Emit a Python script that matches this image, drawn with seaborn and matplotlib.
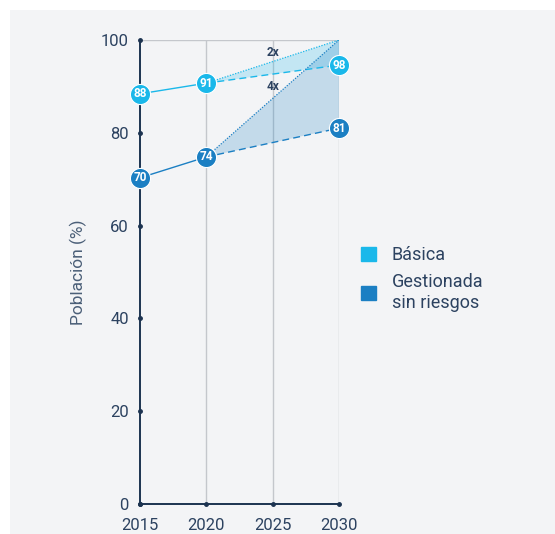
import pandas as pd
import matplotlib.pyplot as plt
import seaborn as sns
from matplotlib.patches import Patch, Rectangle

# -----------------------------
# Data
# -----------------------------
series = ['Básica', 'Gestionada\nsin riesgos']
colors = ['#1ab8ea', '#1b7fc3']
years_obs = [2015, 2020]
basica_obs = [88.4, 90.7]
gestionada_obs = [70.3, 74.8]
years_proj = [2020, 2030]
basica_trend = [90.7, 94.6]
gestionada_trend = [74.8, 81.0]
target = [100, 100]
basica_labels = ['88', '91', '98']
gestionada_labels = ['70', '74', '81']
multipliers = ['2x', '4x']
x_ticks = [2015, 2020, 2025, 2030]
y_ticks = [0, 20, 40, 60, 80, 100]

obs = pd.DataFrame({
    'year': years_obs * 2,
    'value': basica_obs + gestionada_obs,
    'serie': [series[0]] * 2 + [series[1]] * 2,
})

# -----------------------------
# Style
# -----------------------------
sns.set_style("white")
plt.rcParams['font.family'] = ['Roboto', 'DejaVu Sans']
navy = '#1c3350'
text_col = '#2c4260'

fig = plt.figure(figsize=(5.55, 5.34), dpi=100)
fig.patch.set_facecolor('white')
fig.patches.append(Rectangle((10 / 555, 0), 1, 1 - 10 / 534, transform=fig.transFigure,
                             facecolor='#f3f4f6', edgecolor='none', zorder=-10))

ax = fig.add_axes([140 / 555, 30 / 534, 199 / 555, 464 / 534])
ax.set_facecolor('none')

# grid
for x in x_ticks[1:]:
    ax.axvline(x, color='#c4c7cc', lw=1, zorder=0)
ax.axhline(100, color='#c4c7cc', lw=1, zorder=0)

# observed lines
sns.lineplot(data=obs, x='year', y='value', hue='serie', palette=colors,
             lw=1, legend=False, ax=ax, zorder=2)

# projections
trends = [basica_trend, gestionada_trend]
for trend, col in zip(trends, colors):
    start = trend[0]
    ax.fill([years_proj[0], years_proj[1], years_proj[1]],
            [start, target[1], trend[1]], color=col, alpha=0.22, lw=0, zorder=1)
    ax.plot(years_proj, trend, color=col, lw=1, ls=(0, (5, 3)), zorder=2)
    ax.plot(years_proj, [start, target[1]], color=col, lw=0.9, ls=(0, (1, 1.2)), zorder=2)

# markers with values
points = [
    (years_obs + [years_proj[1]], basica_obs + [basica_trend[1]], basica_labels, colors[0]),
    (years_obs + [years_proj[1]], gestionada_obs + [gestionada_trend[1]], gestionada_labels, colors[1]),
]
for xs, ys, labels, col in points:
    for x, y, lab in zip(xs, ys, labels):
        ax.plot(x, y, 'o', ms=14.5, color=col, mec='white', mew=0.8, zorder=4, clip_on=False)
        ax.text(x, y, lab, color='white', fontsize=8.5, fontweight='bold',
                ha='center', va='center', zorder=5)

ax.text(2025, 97.4, multipliers[0], fontsize=8.5, fontweight='bold', color=text_col,
        ha='center', va='center')
ax.text(2025, 89.9, multipliers[1], fontsize=8.5, fontweight='bold', color=text_col,
        ha='center', va='center')

# axes
ax.set_xlim(2015, 2030)
ax.set_ylim(0, 100)
ax.set_xticks(x_ticks)
ax.set_yticks(y_ticks)
ax.tick_params(length=0, labelsize=12, labelcolor=text_col)
ax.tick_params(axis='x', pad=10)
ax.tick_params(axis='y', pad=8)
for s in ['top', 'right']:
    ax.spines[s].set_visible(False)
for s in ['left', 'bottom']:
    ax.spines[s].set_color(navy)
    ax.spines[s].set_linewidth(1.4)
ax.plot([2015] * len(y_ticks), y_ticks, 'o', ms=2.5, color=navy, clip_on=False, zorder=3)
ax.plot(x_ticks, [0] * len(x_ticks), 'o', ms=2.5, color=navy, clip_on=False, zorder=3)
ax.set_xlabel('')
ax.set_ylabel('Población (%)', fontsize=12.5, color='#4b5f78', labelpad=10)

handles = [Patch(color=c) for c in colors]
fig.legend(handles, series, loc='upper left', bbox_to_anchor=(345 / 555, 1 - 230 / 534),
           frameon=False, fontsize=13, handlelength=0.8, handleheight=0.8,
           labelcolor=text_col, handletextpad=0.9, labelspacing=0.5)

plt.savefig('out.png', dpi=100)
